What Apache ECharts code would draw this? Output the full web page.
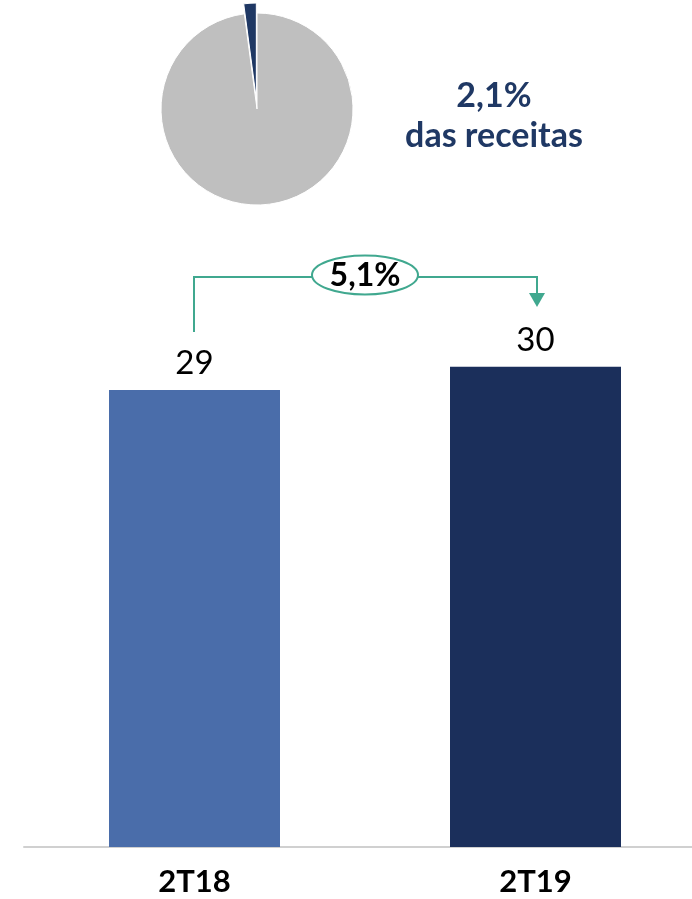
<!DOCTYPE html>
<html>
<head>
<meta charset="utf-8">
<script src="https://cdn.jsdelivr.net/npm/echarts@6/dist/echarts.min.js"></script>
<style>
  html, body { margin: 0; padding: 0; background: #fff; }
  #chart { width: 692px; height: 899px; }
</style>
</head>
<body>
<div id="chart"></div>
<script>
// dados do gráfico
const categories = ['2T18', '2T19']
const values = [28.6, 30.06]
const barColors = ['#4a6daa', '#1b2f5b']
const pieNames = ['Participação', 'Demais receitas']
const pieValues = [2.1, 97.9]
const pieColors = ['#1f3864', '#bfbfbf']
const growthText = '5,1%'
const shareText = ['2,1%', 'das receitas']

const teal = '#40a88f'
const navy = '#1f3864'
const fontName = 'Lato'

let myChart = echarts.init(document.getElementById('chart'))

let option = {
  animation: false,
  grid: {
    left: 24,
    width: 682,
    top: 208,
    bottom: 52,
    outerBoundsMode: 'none'
  },
  xAxis: {
    type: 'category',
    data: categories,
    axisLine: { lineStyle: { color: '#d0d0d0', width: 2 } },
    axisTick: { show: false },
    axisLabel: {
      margin: 19,
      color: '#000',
      fontSize: 31,
      fontWeight: 'bold',
      fontFamily: fontName
    }
  },
  yAxis: {
    type: 'value',
    min: 0,
    max: 40,
    show: false
  },
  series: [
    {
      type: 'bar',
      barWidth: 171,
      data: values.map((v, i) => ({ value: v, itemStyle: { color: barColors[i] } })),
      label: {
        show: true,
        position: 'top',
        distance: 10,
        color: '#000',
        fontSize: 33,
        fontFamily: fontName,
        formatter: p => Math.round(p.value)
      },
      emphasis: { disabled: true }
    },
    {
      type: 'pie',
      center: [257, 109],
      radius: 96,
      startAngle: 90,
      clockwise: false,
      selectedMode: 'single',
      selectedOffset: 10,
      label: { show: false },
      labelLine: { show: false },
      emphasis: { disabled: true },
      itemStyle: { borderColor: '#fff', borderWidth: 1 },
      data: pieValues.map((v, i) => ({
        name: pieNames[i],
        value: v,
        selected: i === 0,
        itemStyle: { color: pieColors[i] }
      }))
    }
  ]
}

// anotações
option.graphic = [
  {
    type: 'text',
    x: 494, y: 96,
    style: {
      text: shareText[0], fill: navy, align: 'center', verticalAlign: 'middle',
      font: 'bold 34px ' + fontName
    }
  },
  {
    type: 'text',
    x: 494, y: 136,
    style: {
      text: shareText[1], fill: navy, align: 'center', verticalAlign: 'middle',
      font: 'bold 34px ' + fontName
    }
  },
  {
    type: 'polyline',
    shape: { points: [[194, 332], [194, 277], [312, 277]] },
    style: { stroke: teal, lineWidth: 2, fill: null }
  },
  {
    type: 'polyline',
    shape: { points: [[418, 277], [537, 277], [537, 294]] },
    style: { stroke: teal, lineWidth: 2, fill: null }
  },
  {
    type: 'polygon',
    shape: { points: [[529, 293], [545, 293], [537, 307]] },
    style: { fill: teal }
  },
  {
    type: 'ellipse',
    shape: { cx: 365, cy: 275, rx: 53, ry: 19.5 },
    style: { stroke: teal, lineWidth: 2, fill: '#fff' }
  },
  {
    type: 'text',
    x: 365, y: 276,
    style: {
      text: growthText, fill: '#000', align: 'center', verticalAlign: 'middle',
      font: 'bold 32px ' + fontName
    }
  }
]

myChart.setOption(option)
</script>
</body>
</html>
